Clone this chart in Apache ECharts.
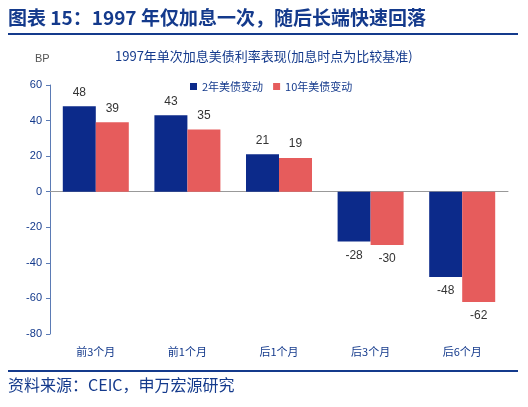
<!DOCTYPE html><html><head><meta charset="utf-8">
<script src="https://cdn.jsdelivr.net/npm/echarts@6/dist/echarts.min.js"></script>
<style>body{margin:0}#c{width:528px;height:407px}</style></head><body><div id="c"></div><script>
const categories=['前3个月','前1个月','后1个月','后3个月','后6个月'];
const s2y=[48,43,21,-28,-48];
const s10y=[39,35,19,-30,-62];
const seriesNames=['2年美债变动','10年美债变动'];
const chart=echarts.init(document.getElementById('c'));
const blue='#143a8c';
const lbl={show:true,position:'outside',color:'#333',fontSize:12,fontFamily:'Liberation Sans'};
chart.setOption({
 animation:false,
 graphic:[
  {type:'text',left:8,top:8,style:{text:'图表 15：1997 年仅加息一次，随后长端快速回落',font:'bold 19px "Noto Sans CJK SC"',fill:blue}},
  {type:'rect',shape:{x:8,y:33,width:510,height:2},style:{fill:blue}},
  {type:'rect',shape:{x:8,y:370,width:510,height:2},style:{fill:blue}},
  {type:'text',left:8,top:377,style:{text:'资料来源：CEIC，申万宏源研究',font:'16px "Noto Sans CJK SC"',fill:blue}},
  {type:'text',left:35,top:53,style:{text:'BP',font:'11px "Liberation Sans"',fill:'#555'}}
 ],
 title:{text:'1997年单次加息美债利率表现(加息时点为比较基准)',left:110,top:45,textStyle:{fontSize:13,fontWeight:'normal',color:blue,fontFamily:'Noto Sans CJK SC'}},
 legend:{top:76,left:185,itemWidth:7,itemHeight:7,itemGap:10,icon:'rect',textStyle:{fontSize:11,color:blue,fontFamily:'Noto Sans CJK SC'},data:seriesNames},
 grid:{left:50,right:20,top:85,bottom:73},
 xAxis:[
  {type:'category',data:categories,position:'bottom',axisLine:{show:false,onZero:false},axisTick:{show:false},axisLabel:{color:blue,fontSize:11,margin:12,fontFamily:'Noto Sans CJK SC'}},
  {type:'category',data:categories,axisLine:{onZero:true,lineStyle:{color:'#999'}},axisTick:{show:false},axisLabel:{show:false}}
 ],
 yAxis:{type:'value',min:-80,max:60,interval:20,splitLine:{show:false},axisLine:{show:true,lineStyle:{color:'#5b7bb5'}},axisTick:{show:true,inside:false,length:4,lineStyle:{color:'#5b7bb5'}},axisLabel:{color:blue,fontSize:11,fontFamily:'Liberation Sans'}},
 series:[
  {name:seriesNames[0],type:'bar',data:s2y,barWidth:33,barGap:'0%',itemStyle:{color:'#0c2a8a'},label:Object.assign({distance:8},lbl)},
  {name:seriesNames[1],type:'bar',data:s10y,barWidth:33,itemStyle:{color:'#e65c5c'},label:Object.assign({distance:8},lbl)}
 ]
});
</script></body></html>
